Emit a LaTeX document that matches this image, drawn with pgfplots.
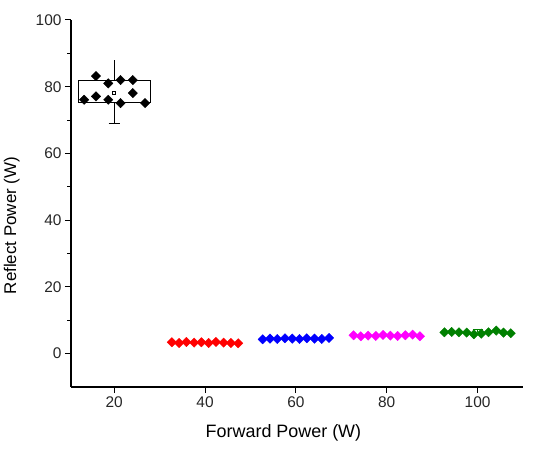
\documentclass[border=0pt]{standalone}
\usepackage{fontspec}
\setmainfont{Liberation Sans}
\usepackage{pgfplots}
\pgfplotsset{compat=1.18}

\definecolor{dgreen}{RGB}{0,128,0}
\definecolor{pred}{RGB}{255,0,0}
\definecolor{pblue}{RGB}{0,0,255}
\definecolor{pmag}{RGB}{255,0,255}

\pgfplotsset{
  pts/.style={only marks, mark=square*, mark size=3.3bp,
    mark options={rotate=45, draw=#1, fill=#1}},
}

\begin{document}
\begin{tikzpicture}
\begin{axis}[
  name=ax,
  scale only axis, width=452bp, height=367bp,
  xmin=10.5, xmax=110, ymin=-10, ymax=100,
  axis x line*=bottom, axis y line*=left,
  axis line style={line width=1.3bp, black},
  xtick={20,40,...,100}, ytick={0,20,...,100},
  minor y tick num=1,
  tick align=outside,
  major tick length=6bp, minor tick length=3.5bp,
  tick style={line width=1bp, black},
  /pgf/number format/assume math mode=true,
  tick label style={font=\fontsize{15.5}{16}\selectfont, color=black!85},
  xlabel={Forward Power (W)},
  ylabel={Reflect Power (W)},
  xlabel style={at={(axis description cs:0.47,-0.1245)}, anchor=center,
    font=\fontsize{18}{20}\selectfont},
  ylabel style={at={(axis description cs:-0.131,0.44)}, anchor=center,
    font=\fontsize{17}{19}\selectfont},
  clip=false,
]
% box for the 20 W group
\addplot[black, line width=0.8bp] coordinates {(12.1,75.2) (28,75.2) (28,81.9) (12.1,81.9) (12.1,75.2)};
\addplot[black, line width=0.8bp] coordinates {(20,81.9) (20,88)};
\addplot[black, line width=0.8bp] coordinates {(20,75.2) (20,69)};
\addplot[black, line width=0.8bp] coordinates {(18.8,69) (21.2,69)};
\addplot[only marks, mark=square, mark size=1.4bp, black, mark options={line width=0.6bp}] coordinates {(20,78.2)};

% measured points
\addplot[pts=black] coordinates {
  (16.0,83.2) (18.7,81.0) (21.4,82.0) (24.1,82.0) (13.4,76.1)
  (16.0,77.1) (18.7,76.1) (21.4,75.1) (24.1,78.1) (26.8,75.1)};
\addplot[pts=pred] coordinates {
  (32.7,3.4) (34.3,3.2) (35.9,3.5) (37.6,3.3) (39.2,3.4)
  (40.8,3.2) (42.4,3.5) (44.1,3.3) (45.7,3.2) (47.3,3.1)};
\addplot[pts=pblue] coordinates {
  (52.7,4.3) (54.3,4.5) (55.9,4.4) (57.6,4.6) (59.2,4.5)
  (60.8,4.4) (62.4,4.6) (64.1,4.5) (65.7,4.4) (67.3,4.7)};
\addplot[pts=pmag] coordinates {
  (72.7,5.5) (74.3,5.2) (75.9,5.4) (77.6,5.3) (79.2,5.6)
  (80.8,5.4) (82.4,5.3) (84.1,5.5) (85.7,5.7) (87.3,5.2)};
% whisker of the 100 W group
\addplot[dgreen, line width=0.8bp] coordinates {(100,6.4) (100,7.4)};
\addplot[dgreen, line width=0.8bp] coordinates {(98.9,7.4) (101.1,7.4)};
\addplot[pts=dgreen] coordinates {
  (92.7,6.4) (94.3,6.5) (95.9,6.4) (97.6,6.3) (99.2,5.8)
  (100.8,6.0) (102.4,6.4) (104.1,6.9) (105.7,6.3) (107.3,6.1)};
\end{axis}
\pgfresetboundingbox
\path[use as bounding box] ([shift={(-71bp,-67bp)}]ax.south west) rectangle ([shift={(15bp,20bp)}]ax.north east);
\end{tikzpicture}
\end{document}
